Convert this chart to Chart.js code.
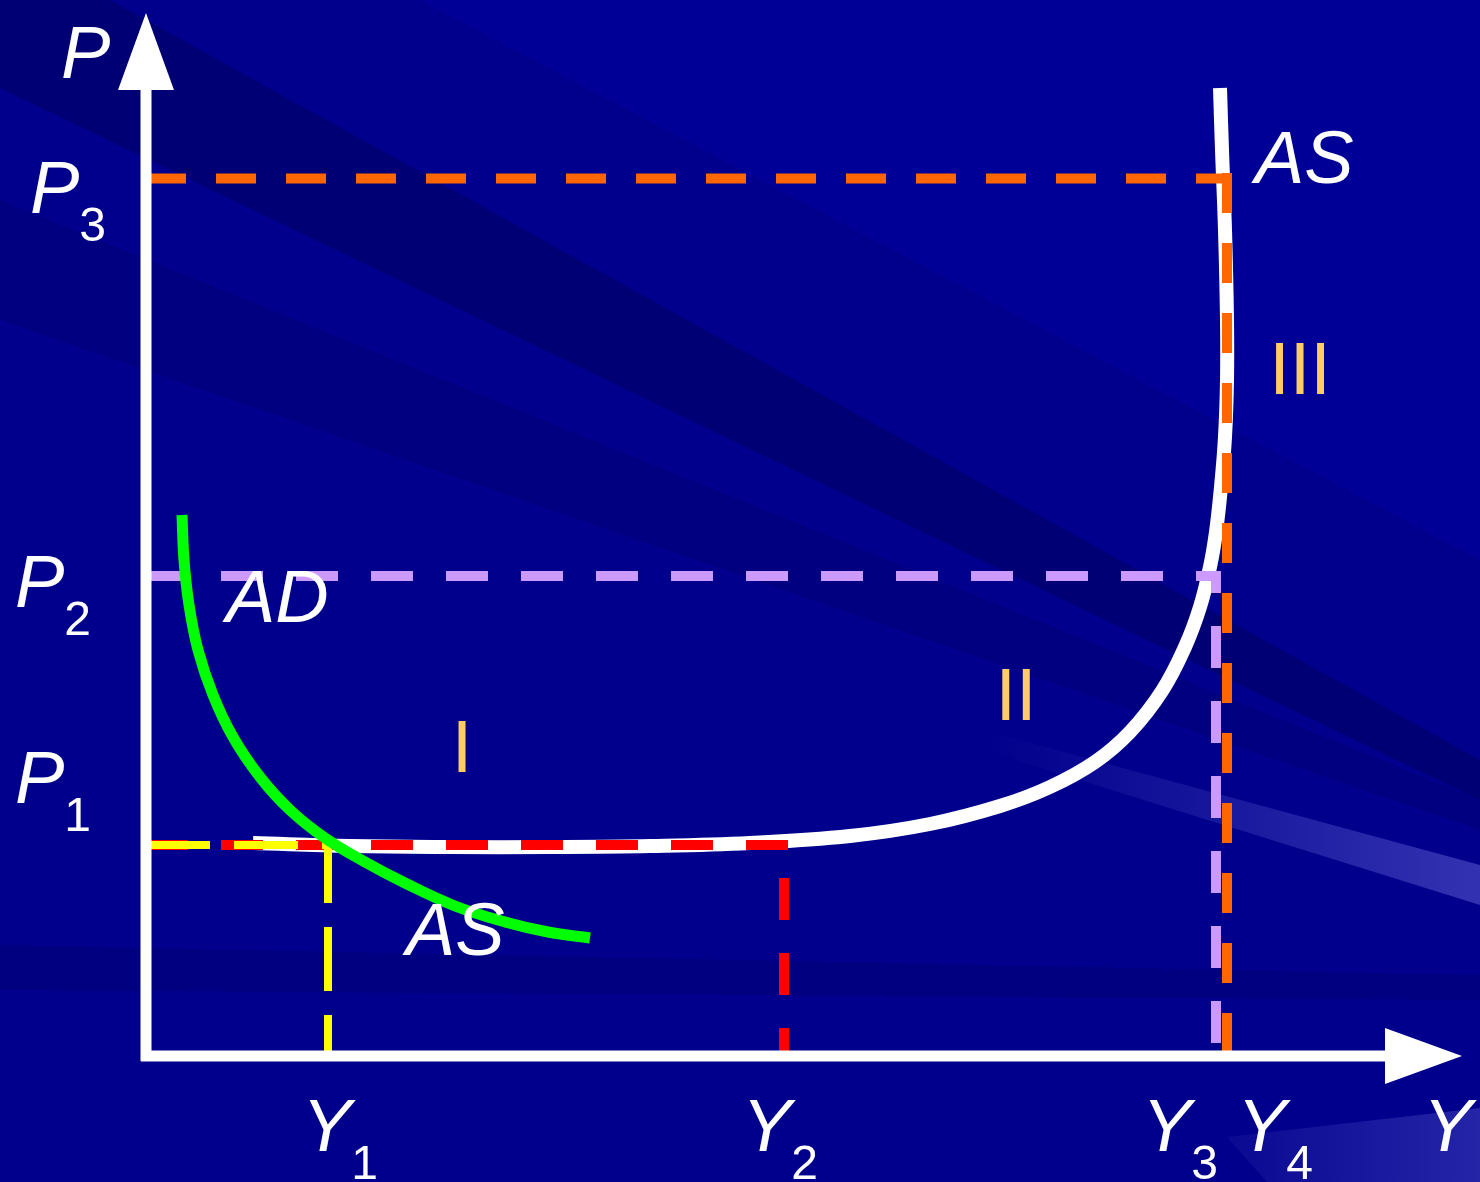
<!DOCTYPE html>
<html>
<head>
<meta charset="utf-8">
<title>AD-AS</title>
<script src="https://cdn.jsdelivr.net/npm/chart.js@4.4.1/dist/chart.umd.min.js"></script>
<style>
  html, body { margin: 0; padding: 0; background: #000090; overflow: hidden; }
  canvas { display: block; }
</style>
</head>
<body>
<canvas id="adasChart" width="1480" height="1182"></canvas>
<script>
// price levels P1, P2, P3 and output levels Y1..Y4
const priceLevels = [21.1, 48.0, 87.75];
const priceNames = ["1", "2", "3"];
const outputLevels = [18.2, 63.8, 107.0, 108.1];
const outputNames = ["1", "2", "3", "4"];

// aggregate supply curve (flat, then bending up, then vertical)
const asX = [10.7, 20.4, 30.4, 40.4, 50.4, 60.4, 70.4, 78.4, 85.4, 90.4, 94.9, 98.4, 101.6, 103.9, 105.4, 106.4, 107.0, 107.5, 107.9, 108.1, 108.1, 107.9, 107.6, 107.4];
const asY = [21.3, 21.0, 20.9, 20.9, 21.0, 21.3, 22.0, 23.2, 25.0, 26.9, 29.4, 32.4, 36.5, 40.9, 44.9, 48.9, 52.4, 56.9, 61.9, 67.6, 73.6, 82.6, 90.6, 96.8];

// aggregate demand curve
const adX = [3.6, 3.8, 4.3, 5.2, 6.7, 8.7, 11.4, 14.4, 17.9, 21.9, 25.9, 30.9, 35.9, 40.2, 44.4];
const adY = [54.1, 49.6, 45.1, 40.6, 36.1, 31.9, 27.9, 24.6, 21.8, 19.4, 17.3, 15.0, 13.4, 12.4, 11.8];

const regionNames = ["I", "II", "III"];

document.addEventListener("DOMContentLoaded", () => {
  const canvas = document.getElementById("adasChart");
  const ctx = canvas.getContext("2d");

  const [P1, P2, P3] = priceLevels;
  const [Y1, Y2, Y3, Y4] = outputLevels;
  const pts = (xs, ys) => xs.map((x, i) => ({ x, y: ys[i] }));

  const dashed = (data, color, width, dash, offset, order) => ({
    data,
    borderColor: color,
    borderWidth: width,
    borderDash: dash,
    borderDashOffset: offset || 0,
    borderCapStyle: "butt",
    showLine: true,
    pointRadius: 0,
    tension: 0,
    clip: false,
    order
  });

  const background = {
    id: "background",
    beforeDraw(chart) {
      const c = chart.ctx;
      const W = chart.width, H = chart.height;
      const poly = (p, fill) => {
        c.beginPath();
        c.moveTo(p[0][0], p[0][1]);
        p.slice(1).forEach(q => c.lineTo(q[0], q[1]));
        c.closePath();
        c.fillStyle = fill;
        c.fill();
      };
      c.save();
      c.fillStyle = "#00008c";
      c.fillRect(0, 0, W, H);
      poly([[420, 0], [W, 0], [W, 560]], "#000096");
      poly([[0, 0], [110, 0], [W, 760], [W, 800], [0, 88]], "#000074");
      poly([[0, 200], [W, 800], [W, 830], [0, 320]], "#000080");
      poly([[0, 945], [W, 975], [W, 1000], [0, 990]], "#000080");
      let g = c.createLinearGradient(990, 0, W, 0);
      g.addColorStop(0, "rgba(120,120,230,0)");
      g.addColorStop(1, "rgba(120,120,230,0.42)");
      poly([[990, 732], [W, 865], [W, 905], [990, 752]], g);
      g = c.createLinearGradient(1230, 0, W, 0);
      g.addColorStop(0, "rgba(120,120,230,0.08)");
      g.addColorStop(1, "rgba(120,120,230,0.3)");
      poly([[1227, 1137], [W, 1108], [W, H], [1267, H]], g);
      c.restore();
    }
  };

  const axes = {
    id: "axes",
    afterDatasetsDraw(chart) {
      const c = chart.ctx;
      const { x, y } = chart.scales;
      const x0 = x.getPixelForValue(0), y0 = y.getPixelForValue(0);
      c.save();
      c.strokeStyle = "#ffffff";
      c.fillStyle = "#ffffff";
      c.lineWidth = 11;
      c.beginPath();
      c.moveTo(x0, y0 + 5);
      c.lineTo(x0, 88);
      c.moveTo(x0 - 5, y0);
      c.lineTo(1388, y0);
      c.stroke();
      c.beginPath();
      c.moveTo(x0, 13);
      c.lineTo(x0 + 28, 90);
      c.lineTo(x0 - 28, 90);
      c.closePath();
      c.fill();
      c.beginPath();
      c.moveTo(1462, y0);
      c.lineTo(1385, y0 - 28);
      c.lineTo(1385, y0 + 28);
      c.closePath();
      c.fill();
      c.restore();
    }
  };

  const labels = {
    id: "labels",
    afterDraw(chart) {
      const c = chart.ctx;
      const main = 'italic 74px "Liberation Sans", Arial, sans-serif';
      const sub = '48px "Liberation Sans", Arial, sans-serif';
      const withSub = (letter, digit, x, base) => {
        c.font = main;
        c.fillText(letter, x, base);
        const w = c.measureText(letter).width;
        if (digit) {
          c.font = sub;
          c.fillText(digit, x + w, base + 28);
        }
      };
      c.save();
      c.fillStyle = "#ffffff";
      c.textAlign = "left";
      c.textBaseline = "alphabetic";
      withSub("P", null, 61, 78);
      withSub("P", priceNames[2], 30, 213);
      withSub("P", priceNames[1], 15, 607);
      withSub("P", priceNames[0], 15, 803);
      withSub("Y", outputNames[0], 302, 1151);
      withSub("Y", outputNames[1], 742, 1151);
      withSub("Y", outputNames[2], 1142, 1151);
      withSub("Y", outputNames[3], 1237, 1151);
      withSub("Y", null, 1423, 1151);
      c.font = main;
      c.fillText("AS", 1255, 183);
      c.fillText("AS", 406, 955);
      c.fillText("AD", 226, 622);
      c.fillStyle = "#ffcc66";
      c.font = '74px "Liberation Sans", Arial, sans-serif';
      c.textAlign = "center";
      c.fillText(regionNames[0], 462, 772);
      c.fillText(regionNames[1], 1016, 720);
      c.fillText(regionNames[2], 1300, 394);
      c.restore();
    }
  };

  new Chart(ctx, {
    type: "scatter",
    data: {
      datasets: [
        {
          data: pts(adX, adY),
          borderColor: "#00ff00",
          borderWidth: 11,
          borderCapStyle: "butt",
          showLine: true,
          pointRadius: 0,
          tension: 0.4,
          clip: false,
          order: 0
        },
        dashed([{ x: 0, y: P1 }, { x: Y1, y: P1 }, { x: Y1, y: 0 }], "#ffff00", 8, [64, 24], 0, 1),
        dashed([{ x: 0, y: P1 }, { x: Y2 + 0.5, y: P1 }], "#ff0000", 10, [42, 33], 0, 2),
        dashed([{ x: Y2, y: P1 }, { x: Y2, y: 0 }], "#ff0000", 10, [42, 33], 42, 2),
        dashed([{ x: 0, y: P2 }, { x: Y3 + 0.5, y: P2 }], "#cc99ff", 10, [42, 33], 0, 3),
        dashed([{ x: Y3, y: P2 }, { x: Y3, y: 0 }], "#cc99ff", 10, [42, 33], 25, 3),
        dashed([{ x: 0, y: P3 }, { x: Y4 - 0.5, y: P3 }], "#ff6600", 10, [40, 30], 0, 4),
        dashed([{ x: Y4, y: P3 + 0.55 }, { x: Y4, y: 0 }], "#ff6600", 10, [40, 30], 0, 4),
        {
          data: pts(asX, asY),
          borderColor: "#ffffff",
          borderWidth: 14,
          borderCapStyle: "butt",
          showLine: true,
          pointRadius: 0,
          tension: 0.4,
          clip: false,
          order: 5
        }
      ]
    },
    options: {
      responsive: false,
      animation: false,
      events: [],
      layout: { padding: { left: 146, right: 0, top: 0, bottom: 126 } },
      scales: {
        x: { type: "linear", min: 0, max: 133.4, display: false },
        y: { type: "linear", min: 0, max: 105.6, display: false }
      },
      plugins: {
        legend: { display: false },
        tooltip: { enabled: false }
      }
    },
    plugins: [background, axes, labels]
  });
});
</script>
</body>
</html>
